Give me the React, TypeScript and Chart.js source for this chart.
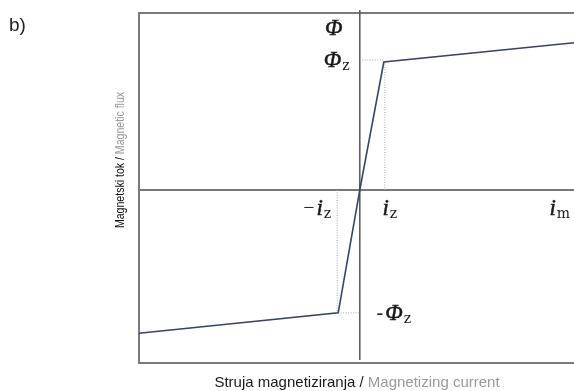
import React, { useEffect, useRef } from "react";
import { Chart, registerables } from "chart.js";

Chart.register(...registerables);

// Magnetizing current (in units of i_z) and magnetic flux (in units of Φ_z)
const currentValues = [-9.2, -0.9, 0, 1, 8.925];
const fluxValues = [-1.12, -0.96, 0, 1, 1.15];

// axis ranges
const xRange = [-9.2, 8.925];
const yRange = [-1.352, 1.383];

// marked levels
const izPos = 1;
const izNeg = -0.9;
const imVal = 8.25;
const phiZPos = 1;
const phiZNeg = -0.96;

const xTitleDark = "Struja magnetiziranja / ";
const xTitleLight = "Magnetizing current";
const yTitleDark = "Magnetski tok / ";
const yTitleLight = "Magnetic flux";
const panelLabel = "b)";

function drawSym(
  ctx: CanvasRenderingContext2D,
  cx: number,
  cy: number,
  prefix: string,
  main: string,
  sub: string
) {
  ctx.save();
  ctx.fillStyle = "#1a1a1a";
  ctx.strokeStyle = "#1a1a1a";
  ctx.lineWidth = 0.5;
  ctx.textBaseline = "alphabetic";
  ctx.textAlign = "left";
  const mainFont = "italic 23px 'Liberation Serif', serif";
  const prefFont = "20px 'Liberation Serif', serif";
  const subFont = "14px 'DejaVu Serif', serif";
  ctx.font = prefFont;
  const wp = prefix ? ctx.measureText(prefix).width + 2 : 0;
  ctx.font = mainFont;
  const wm = ctx.measureText(main).width;
  ctx.font = subFont;
  const ws = sub ? ctx.measureText(sub).width + 1 : 0;
  let x = cx - (wp + wm + ws) / 2;
  const base = cy + 8;
  if (prefix) {
    ctx.font = prefFont;
    ctx.fillText(prefix, x, base - 1);
    x += wp;
  }
  ctx.font = mainFont;
  ctx.fillText(main, x, base);
  ctx.strokeText(main, x, base);
  x += wm + 1;
  if (sub) {
    ctx.font = subFont;
    ctx.fillText(sub, x, base + 3);
  }
  ctx.restore();
}

const decorPlugin = {
  id: "decor",
  beforeDatasetsDraw(chart: any) {
    const { ctx, chartArea: a, scales } = chart;
    const xs = scales.x;
    const ys = scales.y;
    const x0 = xs.getPixelForValue(0);
    const y0 = ys.getPixelForValue(0);
    ctx.save();
    // box
    ctx.strokeStyle = "#7a7a7a";
    ctx.lineWidth = 2;
    ctx.beginPath();
    ctx.moveTo(a.right + 5, a.top);
    ctx.lineTo(a.left, a.top);
    ctx.lineTo(a.left, a.bottom);
    ctx.lineTo(a.right + 5, a.bottom);
    ctx.stroke();
    // axes
    ctx.strokeStyle = "#777";
    ctx.lineWidth = 2;
    ctx.beginPath();
    ctx.moveTo(a.left, y0);
    ctx.lineTo(a.right + 5, y0);
    ctx.stroke();
    ctx.strokeStyle = "#555";
    ctx.lineWidth = 1.5;
    ctx.beginPath();
    ctx.moveTo(x0, a.top - 3);
    ctx.lineTo(x0, a.bottom - 3);
    ctx.stroke();
    // dotted guides
    ctx.strokeStyle = "#aaa";
    ctx.lineWidth = 1;
    ctx.setLineDash([1, 1.5]);
    const xp = xs.getPixelForValue(izPos);
    const xn = xs.getPixelForValue(izNeg);
    const yp = ys.getPixelForValue(phiZPos);
    const yn = ys.getPixelForValue(phiZNeg);
    ctx.beginPath();
    ctx.moveTo(x0, yp - 2);
    ctx.lineTo(xp, yp - 2);
    ctx.moveTo(xp + 1, yp);
    ctx.lineTo(xp + 1, y0);
    ctx.moveTo(xn - 1, y0);
    ctx.lineTo(xn - 1, yn);
    ctx.moveTo(xn, yn);
    ctx.lineTo(x0, yn);
    ctx.stroke();
    ctx.restore();
  },
  afterDatasetsDraw(chart: any) {
    const { ctx, chartArea: a, scales } = chart;
    const xs = scales.x;
    const ys = scales.y;
    const x0 = xs.getPixelForValue(0);
    const y0 = ys.getPixelForValue(0);
    const yp = ys.getPixelForValue(phiZPos);
    const yn = ys.getPixelForValue(phiZNeg);
    // symbol labels
    drawSym(ctx, x0 - 26, a.top + 14, "", "Φ", "");
    drawSym(ctx, x0 - 23, yp - 3, "", "Φ", "z");
    drawSym(ctx, x0 + 34, yn - 1, "-", "Φ", "z");
    drawSym(ctx, xs.getPixelForValue(izNeg) - 21, y0 + 17, "−", "i", "z");
    drawSym(ctx, xs.getPixelForValue(izPos) + 6, y0 + 17, "", "i", "z");
    drawSym(ctx, xs.getPixelForValue(imVal) + 2, y0 + 17, "", "i", "m");

    ctx.save();
    // panel label
    ctx.fillStyle = "#222";
    ctx.font = "19px 'Liberation Sans', Arial, sans-serif";
    ctx.textBaseline = "alphabetic";
    ctx.textAlign = "left";
    ctx.fillText(panelLabel, 9, 31);

    // x title
    ctx.font = "15px 'Liberation Sans', Arial, sans-serif";
    const w1 = ctx.measureText(xTitleDark).width;
    const w2 = ctx.measureText(xTitleLight).width;
    const sx = 357 - (w1 + w2) / 2;
    const by = 387;
    ctx.fillStyle = "#1a1a1a";
    ctx.fillText(xTitleDark, sx, by);
    ctx.fillStyle = "#999";
    ctx.fillText(xTitleLight, sx + w1, by);
    ctx.restore();

    // y title
    ctx.save();
    ctx.textBaseline = "alphabetic";
    ctx.textAlign = "left";
    ctx.translate(124, 160);
    ctx.rotate(-Math.PI / 2);
    ctx.scale(0.88, 1);
    ctx.font = "12px 'Liberation Sans', Arial, sans-serif";
    const v1 = ctx.measureText(yTitleDark).width;
    const v2 = ctx.measureText(yTitleLight).width;
    const s2 = -(v1 + v2) / 2;
    ctx.fillStyle = "#111";
    ctx.fillText(yTitleDark, s2, 0);
    ctx.fillStyle = "#999";
    ctx.fillText(yTitleLight, s2 + v1, 0);
    ctx.restore();
  },
};

export default function App() {
  const ref = useRef<HTMLCanvasElement | null>(null);
  useEffect(() => {
    if (!ref.current) return;
    const chart = new Chart(ref.current, {
      type: "scatter",
      data: {
        datasets: [
          {
            data: currentValues.map((x, i) => ({ x, y: fluxValues[i] })),
            showLine: true,
            borderColor: "#34446e",
            borderWidth: 1.6,
            pointRadius: 0,
            tension: 0,
          },
        ],
      },
      options: {
        animation: false,
        responsive: false,
        events: [],
        layout: { padding: { left: 139, top: 13, right: 0, bottom: 28 } },
        plugins: { legend: { display: false }, tooltip: { enabled: false } },
        scales: {
          x: { type: "linear", display: false, min: xRange[0], max: xRange[1] },
          y: { type: "linear", display: false, min: yRange[0], max: yRange[1] },
        },
      },
      plugins: [decorPlugin],
    });
    return () => chart.destroy();
  }, []);
  return (
    <div style={{ position: "fixed", left: 0, top: 0, width: 574, height: 391, background: "#fff" }}>
      <canvas ref={ref} width={574} height={391} style={{ display: "block" }} />
    </div>
  );
}
